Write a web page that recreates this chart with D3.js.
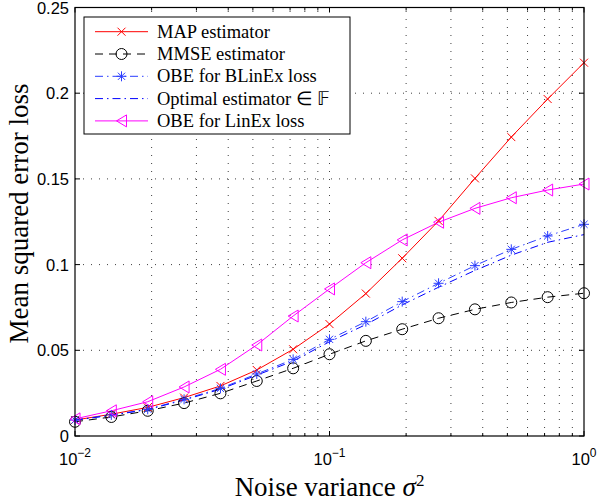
<!DOCTYPE html>
<html>
<head>
<meta charset="utf-8">
<script src="https://cdn.jsdelivr.net/npm/d3@7"></script>
<style>
  html, body { margin: 0; padding: 0; background: #fff; }
  svg { display: block; }
  .tick-label { font-family: "Liberation Sans", Arial, sans-serif; font-size: 16.5px; fill: #000; }
  .axis-title { font-family: "Liberation Serif", "Times New Roman", serif; font-size: 27px; fill: #000; }
  .legend-text { font-family: "Liberation Serif", "Times New Roman", serif; font-size: 18.5px; fill: #000; }
</style>
</head>
<body>
<svg id="chart" width="597" height="503"></svg>
<script>
// Noise variance sampled at 15 log-spaced points, 10^-2 ... 10^0
const noiseVariance = [0.01, 0.01389, 0.01931, 0.02683, 0.03728, 0.05179, 0.07197, 0.1,
                       0.13895, 0.19307, 0.26827, 0.37276, 0.51795, 0.71969, 1.0];

const mapEstimator   = [0.0093, 0.0127, 0.0167, 0.0224, 0.0292, 0.0385, 0.0506, 0.0653,
                        0.0831, 0.1037, 0.1255, 0.1503, 0.1744, 0.1966, 0.2178];
const mmseEstimator  = [0.0083, 0.0111, 0.0147, 0.0192, 0.0249, 0.0321, 0.0395, 0.0477,
                        0.0555, 0.0623, 0.0687, 0.0739, 0.0779, 0.0810, 0.0833];
const obeBlinex      = [0.0093, 0.0123, 0.0156, 0.0214, 0.0278, 0.0362, 0.0447, 0.0564,
                        0.0667, 0.0784, 0.0891, 0.0994, 0.1089, 0.1167, 0.1235];
const optimalInF     = [0.0092, 0.0121, 0.0154, 0.0210, 0.0273, 0.0355, 0.0437, 0.0550,
                        0.0650, 0.0765, 0.0868, 0.0966, 0.1055, 0.1130, 0.1175];
const obeLinex       = [0.0100, 0.0147, 0.0200, 0.0286, 0.0389, 0.0531, 0.0700, 0.0858,
                        0.1011, 0.1144, 0.1247, 0.1328, 0.1390, 0.1435, 0.1470];

const seriesNames = ["MAP estimator", "MMSE estimator", "OBE for BLinEx loss",
                     "Optimal estimator \u2208 \uD835\uDD3D", "OBE for LinEx loss"];

const yTicks = [0, 0.05, 0.1, 0.15, 0.2, 0.25];
const yTickLabels = ["0", "0.05", "0.1", "0.15", "0.2", "0.25"];
const xMajorTicks = [0.01, 0.1, 1];
const xMajorExponents = ["\u22122", "\u22121", "0"];

const series = [
  { name: seriesNames[0], values: mapEstimator, color: "#ff0000", dash: null,            marker: "x" },
  { name: seriesNames[1], values: mmseEstimator, color: "#000000", dash: "8,6",         marker: "circle" },
  { name: seriesNames[2], values: obeBlinex,    color: "#2a3cff", dash: "8,4,1.5,4",   marker: "star" },
  { name: seriesNames[3], values: optimalInF,   color: "#0000ff", dash: "8,4,1.5,4",   marker: null },
  { name: seriesNames[4], values: obeLinex,     color: "#ff00ff", dash: null,          marker: "triangleLeft" }
];

const svg = d3.select("#chart");
const plotLeft = 75, plotRight = 584, plotTop = 7.5, plotBottom = 436;

const x = d3.scaleLog().domain([0.01, 1]).range([plotLeft, plotRight]);
const y = d3.scaleLinear().domain([0, 0.25]).range([plotBottom, plotTop]);

// log minor positions (2..9 in each decade)
const xMinor = [];
[0.01, 0.1].forEach(d => { for (let m = 2; m <= 9; m++) xMinor.push(d * m); });

// dotted grid
const grid = svg.append("g").attr("stroke", "#000").attr("stroke-width", 1)
  .attr("stroke-dasharray", "1,7").attr("opacity", 0.75);
xMinor.concat([0.1]).forEach(v => {
  grid.append("line").attr("x1", x(v)).attr("x2", x(v)).attr("y1", plotBottom).attr("y2", plotTop);
});
yTicks.slice(1, -1).forEach(v => {
  grid.append("line").attr("x1", plotLeft).attr("x2", plotRight).attr("y1", y(v)).attr("y2", y(v));
});

// ticks pointing inward on all four sides
const ticks = svg.append("g").attr("stroke", "#000").attr("stroke-width", 1);
xMajorTicks.forEach(v => {
  ticks.append("line").attr("x1", x(v)).attr("x2", x(v)).attr("y1", plotBottom).attr("y2", plotBottom - 5);
  ticks.append("line").attr("x1", x(v)).attr("x2", x(v)).attr("y1", plotTop).attr("y2", plotTop + 5);
});
xMinor.forEach(v => {
  ticks.append("line").attr("x1", x(v)).attr("x2", x(v)).attr("y1", plotBottom).attr("y2", plotBottom - 3);
  ticks.append("line").attr("x1", x(v)).attr("x2", x(v)).attr("y1", plotTop).attr("y2", plotTop + 3);
});
yTicks.forEach(v => {
  ticks.append("line").attr("x1", plotLeft).attr("x2", plotLeft + 5).attr("y1", y(v)).attr("y2", y(v));
  ticks.append("line").attr("x1", plotRight).attr("x2", plotRight - 5).attr("y1", y(v)).attr("y2", y(v));
});

// y tick labels
yTicks.forEach((v, i) => {
  svg.append("text").attr("class", "tick-label")
    .attr("x", plotLeft - 6).attr("y", Math.max(y(v), 8.5)).attr("dy", "0.36em")
    .attr("text-anchor", "end").text(yTickLabels[i]);
});

// x tick labels: 10^e
xMajorTicks.forEach((v, i) => {
  const t = svg.append("text").attr("class", "tick-label")
    .attr("x", x(v)).attr("y", 465).attr("text-anchor", "middle");
  t.append("tspan").text("10");
  t.append("tspan").attr("dy", -8).attr("font-size", "12px").text(xMajorExponents[i]);
});

// series lines and markers
const line = d3.line().x((d, i) => x(noiseVariance[i])).y(d => y(d));

function drawMarker(g, type, cx, cy, color) {
  if (type === "x") {
    const s = 4;
    g.append("path").attr("d", `M${cx - s},${cy - s}L${cx + s},${cy + s}M${cx - s},${cy + s}L${cx + s},${cy - s}`)
      .attr("stroke", color).attr("fill", "none");
  } else if (type === "circle") {
    g.append("circle").attr("cx", cx).attr("cy", cy).attr("r", 5.5)
      .attr("stroke", color).attr("fill", "none");
  } else if (type === "star") {
    const s = 5, d = 3.6;
    g.append("path").attr("d",
      `M${cx - s},${cy}L${cx + s},${cy}M${cx},${cy - s}L${cx},${cy + s}` +
      `M${cx - d},${cy - d}L${cx + d},${cy + d}M${cx - d},${cy + d}L${cx + d},${cy - d}`)
      .attr("stroke", color).attr("fill", "none");
  } else if (type === "triangleLeft") {
    const w = 5, h = 6;
    g.append("path").attr("d", `M${cx - w},${cy}L${cx + w},${cy - h}L${cx + w},${cy + h}Z`)
      .attr("stroke", color).attr("fill", "none");
  }
}

const plot = svg.append("g");
series.forEach(s => {
  plot.append("path").datum(s.values).attr("d", line)
    .attr("fill", "none").attr("stroke", s.color).attr("stroke-width", 1)
    .attr("stroke-dasharray", s.dash);
});
series.forEach(s => {
  if (!s.marker) return;
  const g = plot.append("g").attr("stroke-width", 1);
  s.values.forEach((v, i) => drawMarker(g, s.marker, x(noiseVariance[i]), y(v), s.color));
});

// axes box
svg.append("rect").attr("x", plotLeft).attr("y", plotTop)
  .attr("width", plotRight - plotLeft).attr("height", plotBottom - plotTop)
  .attr("fill", "none").attr("stroke", "#000").attr("stroke-width", 1.2);

// legend
const lg = svg.append("g");
lg.append("rect").attr("x", 84).attr("y", 17).attr("width", 266).attr("height", 117)
  .attr("fill", "#fff").attr("stroke", "#000").attr("stroke-width", 1);
series.forEach((s, i) => {
  const cy = 31.7 + i * 22.3;
  lg.append("line").attr("x1", 95).attr("x2", 148).attr("y1", cy).attr("y2", cy)
    .attr("stroke", s.color).attr("stroke-width", 1).attr("stroke-dasharray", s.dash);
  if (s.marker) drawMarker(lg, s.marker, 121.5, cy, s.color);
  lg.append("text").attr("class", "legend-text").attr("x", 157).attr("y", cy).attr("dy", "0.33em")
    .text(s.name);
});

// axis titles
const xt = svg.append("text").attr("class", "axis-title").attr("x", (plotLeft + plotRight) / 2).attr("y", 496)
  .attr("text-anchor", "middle");
xt.append("tspan").text("Noise variance ");
xt.append("tspan").attr("font-style", "italic").text("\u03C3");
xt.append("tspan").attr("dy", -10).attr("font-size", "17px").text("2");

svg.append("text").attr("class", "axis-title")
  .attr("transform", `translate(28,213.5) rotate(-90)`)
  .attr("font-size", "27.5px")
  .attr("text-anchor", "middle").text("Mean squared error loss");
</script>
</body>
</html>
